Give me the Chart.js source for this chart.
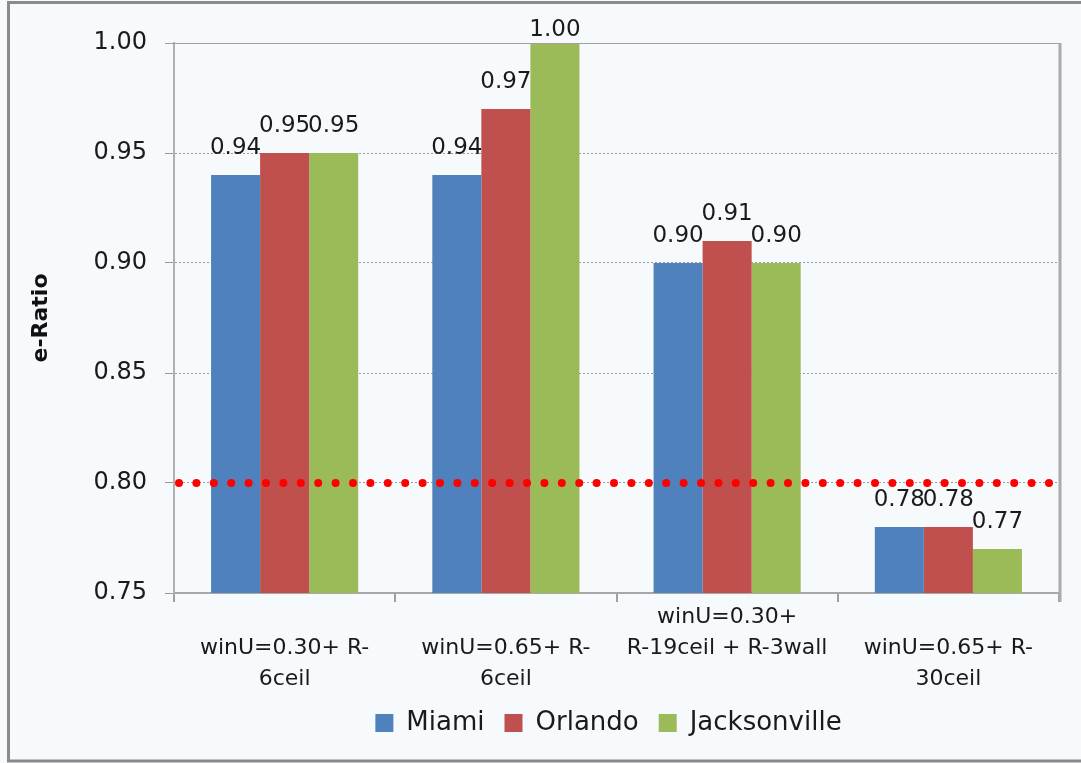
<!DOCTYPE html>
<html>
  <head>
    <title>e-Ratio by city</title>
    <style>
      body {
        margin: 0;
        overflow: hidden;
        background: #f7fafd;
        font-family: 'DejaVu Sans', sans-serif;
      }

      canvas {
        display: block;
      }
    </style>
  </head>
  <body>
    <canvas id="chart" width="1081" height="763"></canvas>
    <script src="https://cdn.jsdelivr.net/npm/chart.js@4.4.0/dist/chart.umd.min.js"></script>
    <script>
      const categories = [
        ['', 'winU=0.30+ R-', '6ceil'],
        ['', 'winU=0.65+ R-', '6ceil'],
        ['winU=0.30+', 'R-19ceil + R-3wall'],
        ['', 'winU=0.65+ R-', '30ceil']
      ];
      const miami = [0.94, 0.94, 0.90, 0.78];
      const orlando = [0.95, 0.97, 0.91, 0.78];
      const jacksonville = [0.95, 1.00, 0.90, 0.77];
      const yTicks = [0.75, 0.80, 0.85, 0.90, 0.95, 1.00];
      const threshold = 0.80;

      // outer frame, value labels above bars, red dotted target line, plot frame
      const extras = {
        id: 'extras',
        afterLayout(chart) {
          // the original legend sits a bit right of centre
          chart.legend.left += 79;
          chart.legend.right += 79;
        },
        beforeDraw(chart) {
          const ctx = chart.ctx;
          ctx.save();
          ctx.fillStyle = '#f7fafd';
          ctx.fillRect(0, 0, chart.width, chart.height);
          ctx.strokeStyle = '#8a8a8a';
          ctx.lineWidth = 3;
          ctx.beginPath();
          ctx.moveTo(chart.width, 2.5);
          ctx.lineTo(8.5, 2.5);
          ctx.lineTo(8.5, chart.height - 2);
          ctx.lineTo(chart.width, chart.height - 2);
          ctx.stroke();
          ctx.restore();
        },
        afterDatasetsDraw(chart) {
          const ctx = chart.ctx;
          const area = chart.chartArea;
          const y = chart.scales.y;

          ctx.save();
          ctx.strokeStyle = '#a0a0a0';
          ctx.lineWidth = 1;
          ctx.beginPath();
          ctx.moveTo(area.left - 9, area.top + 0.5);
          ctx.lineTo(area.right, area.top + 0.5);
          ctx.stroke();
          ctx.lineWidth = 3;
          ctx.strokeStyle = '#aaaaaa';
          ctx.beginPath();
          ctx.moveTo(area.right + 1, area.top);
          ctx.lineTo(area.right + 1, area.bottom + 9);
          ctx.stroke();

          const ty = y.getPixelForValue(threshold);
          ctx.strokeStyle = '#ff0000';
          ctx.lineWidth = 8;
          ctx.lineCap = 'round';
          ctx.setLineDash([0, 17.4]);
          ctx.beginPath();
          ctx.moveTo(area.left + 5, ty);
          ctx.lineTo(area.right - 4, ty);
          ctx.stroke();
          ctx.restore();

          ctx.save();
          ctx.font = '23px "DejaVu Sans"';
          ctx.fillStyle = '#1a1a1a';
          ctx.textAlign = 'center';
          ctx.textBaseline = 'alphabetic';
          chart.data.datasets.forEach((ds, i) => {
            chart.getDatasetMeta(i).data.forEach((bar, j) => {
              const ly = Math.max(bar.y - 21, area.top - 7);
              ctx.fillText(ds.data[j].toFixed(2), bar.x, ly);
            });
          });
          ctx.restore();
        }
      };

      const ctx = document.getElementById('chart').getContext('2d');
      let chart = new Chart(ctx, {
        type: 'bar',
        data: {
          labels: categories,
          datasets: [
            { label: 'Miami', data: miami, backgroundColor: '#4f81bd' },
            { label: 'Orlando', data: orlando, backgroundColor: '#c0504d' },
            { label: 'Jacksonville', data: jacksonville, backgroundColor: '#9bbb59' }
          ]
        },
        options: {
          responsive: false,
          animation: false,
          layout: { padding: { left: 0, right: 22, top: 43, bottom: 17 } },
          datasets: {
            bar: { barPercentage: 1.0, categoryPercentage: 0.665 }
          },
          scales: {
            x: {
              grid: { display: true, drawOnChartArea: false, color: '#a0a0a0', tickLength: 9, lineWidth: 2 },
              border: { color: '#a8a8a8', width: 2 },
              ticks: {
                color: '#1a1a1a',
                font: { family: 'DejaVu Sans', size: 22, lineHeight: 1.4 },
                padding: 0,
                maxRotation: 0,
                autoSkip: false
              },
              afterFit(scale) { scale.height = 97; }
            },
            y: {
              min: 0.75,
              max: 1.00,
              afterBuildTicks(scale) { scale.ticks = yTicks.map(v => ({ value: v })); },
              grid: { color: '#9a9a9a', lineWidth: 1, tickLength: 9, tickBorderDash: [] },
              border: { color: '#b0b0b0', width: 2, dash: [2, 2] },
              ticks: {
                color: '#1a1a1a',
                font: { family: 'DejaVu Sans', size: 24 },
                padding: 18,
                callback: v => v.toFixed(2)
              },
              title: {
                display: true,
                text: 'e-Ratio',
                color: '#111',
                font: { family: 'DejaVu Sans', size: 22, weight: 'bold' },
                padding: { top: 28, bottom: 0 }
              },
              afterFit(scale) { scale.width = 174; }
            }
          },
          plugins: {
            legend: {
              position: 'bottom',
              labels: {
                boxWidth: 18,
                boxHeight: 18,
                padding: 20,
                color: '#1a1a1a',
                font: { family: 'DejaVu Sans', size: 26 }
              }
            },
            tooltip: { enabled: false }
          }
        },
        plugins: [extras]
      });
    </script>
  </body>
</html>
